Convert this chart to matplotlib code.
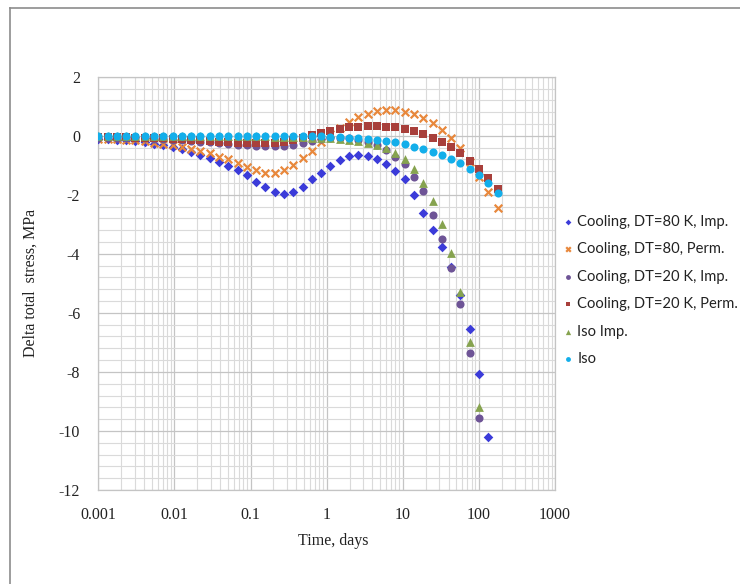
import matplotlib
matplotlib.use("Agg")
import matplotlib.pyplot as plt
from matplotlib.lines import Line2D
from matplotlib.ticker import LogLocator, MultipleLocator, FuncFormatter

plt.rcParams['axes.unicode_minus'] = False

# time, days
times = [0.001, 0.001324, 0.001754, 0.002323, 0.003076, 0.004074, 0.005395, 0.007145,
         0.009462, 0.01253, 0.0166, 0.02198, 0.02911, 0.03855, 0.05105, 0.06761,
         0.08954, 0.1186, 0.157, 0.208, 0.2754, 0.3648, 0.4831, 0.6397, 0.8472,
         1.122, 1.486, 1.968, 2.606, 3.451, 4.571, 6.053, 8.017, 10.62, 14.06,
         18.62, 24.66, 32.66, 43.25, 57.28, 75.86, 100.5, 133.0, 176.2]

cool80_imp = [-0.11, -0.12, -0.14, -0.16, -0.19, -0.22, -0.27, -0.33, -0.38, -0.45,
              -0.54, -0.64, -0.76, -0.88, -1.02, -1.17, -1.34, -1.57, -1.75, -1.91,
              -1.96, -1.9, -1.73, -1.48, -1.25, -1.03, -0.82, -0.69, -0.65, -0.68,
              -0.79, -0.96, -1.18, -1.48, -2.01, -2.61, -3.19, -3.76, -4.45, -5.40,
              -6.55, -8.08, -10.2]

cool80_perm = [-0.1, -0.11, -0.12, -0.14, -0.16, -0.19, -0.23, -0.28, -0.33, -0.39,
               -0.46, -0.51, -0.6, -0.71, -0.8, -0.91, -1.05, -1.17, -1.25, -1.26,
               -1.16, -1.0, -0.77, -0.51, -0.22, 0.05, 0.27, 0.45, 0.62, 0.73,
               0.84, 0.87, 0.87, 0.81, 0.72, 0.59, 0.42, 0.19, -0.07, -0.43,
               -0.88, -1.41, -1.92, -2.44]

cool20_imp = [-0.06, -0.06, -0.07, -0.07, -0.08, -0.09, -0.1, -0.11, -0.13, -0.15,
              -0.17, -0.2, -0.22, -0.25, -0.28, -0.3, -0.32, -0.34, -0.35, -0.35,
              -0.34, -0.31, -0.25, -0.17, -0.11, -0.07, -0.06, -0.08, -0.13, -0.21,
              -0.33, -0.48, -0.71, -0.96, -1.39, -1.87, -2.69, -3.5, -4.49, -5.70,
              -7.37, -9.55]

cool20_perm = [-0.04, -0.04, -0.05, -0.05, -0.06, -0.07, -0.08, -0.09, -0.1, -0.12,
               -0.14, -0.16, -0.18, -0.2, -0.22, -0.24, -0.25, -0.26, -0.26, -0.25,
               -0.22, -0.16, -0.07, 0.03, 0.1, 0.17, 0.23, 0.28, 0.3, 0.33,
               0.33, 0.3, 0.28, 0.23, 0.16, 0.06, -0.07, -0.22, -0.39, -0.6,
               -0.85, -1.13, -1.44, -1.82]

iso_imp = [-0.02, -0.02, -0.02, -0.02, -0.02, -0.02, -0.02, -0.02, -0.02, -0.02,
           -0.02, -0.02, -0.02, -0.02, -0.02, -0.02, -0.02, -0.02, -0.02, -0.03,
           -0.03, -0.04, -0.05, -0.06, -0.07, -0.09, -0.12, -0.14, -0.17, -0.24,
           -0.3, -0.42, -0.58, -0.8, -1.11, -1.61, -2.21, -3.0, -3.98, -5.28,
           -6.98, -9.2]

iso = [0.0, 0.0, 0.0, 0.0, 0.0, 0.0, 0.0, 0.0, 0.0, 0.0,
       0.0, 0.0, 0.0, 0.0, 0.0, 0.0, 0.0, 0.0, 0.0, 0.0,
       0.0, 0.0, 0.0, -0.01, -0.02, -0.03, -0.05, -0.07, -0.09, -0.12,
       -0.15, -0.18, -0.22, -0.28, -0.37, -0.44, -0.54, -0.65, -0.78, -0.94,
       -1.13, -1.34, -1.61, -1.95]

x_ticks = [0.001, 0.01, 0.1, 1, 10, 100, 1000]

fig = plt.figure(figsize=(7.4, 5.84), dpi=100)
ax = fig.add_axes([98.3/740, 1-490/584, (555-98.3)/740, (490-76.7)/584])

ax.scatter(times[:len(cool80_imp)], cool80_imp, marker='D', s=24, color='#3B3BD9', linewidths=0,
           label='Cooling, DT=80 K, Imp.', zorder=3)
ax.scatter(times, cool80_perm, marker='x', s=30, color='#E8883C', linewidths=1.6,
           label='Cooling, DT=80, Perm.', zorder=3)
ax.scatter(times[:len(cool20_imp)], cool20_imp, marker='o', s=34, color='#6E5496', linewidths=0,
           label='Cooling, DT=20 K, Imp.', zorder=3)
ax.scatter(times, cool20_perm, marker='s', s=30, color='#A83F3B', linewidths=0,
           label='Cooling, DT=20 K, Perm.', zorder=3)
ax.scatter(times[:len(iso_imp)], iso_imp, marker='^', s=40, color='#86A34F', linewidths=0,
           label='Iso Imp.', zorder=3)
ax.scatter(times, iso, marker='o', s=34, color='#13AEEA', linewidths=0,
           label='Iso', zorder=3)

ax.set_xscale('log')
ax.set_xlim(0.001, 1000)
ax.set_ylim(-12, 2)
ax.xaxis.set_minor_locator(LogLocator(base=10, subs=range(2, 10), numticks=100))
ax.set_xticks(x_ticks)
ax.xaxis.set_major_formatter(FuncFormatter(lambda v, p: '%g' % v))
ax.xaxis.set_minor_formatter(FuncFormatter(lambda v, p: ''))
ax.yaxis.set_major_locator(MultipleLocator(2))
ax.yaxis.set_minor_locator(MultipleLocator(0.4))

ax.grid(True, which='major', color='#C4C4C4', linewidth=0.9)
ax.grid(True, which='minor', color='#DADADA', linewidth=0.8)
ax.set_axisbelow(True)
for sp in ax.spines.values():
    sp.set_color('#C4C4C4')
    sp.set_linewidth(0.9)

ax.tick_params(which='both', length=0)
ax.tick_params(axis='x', pad=12)
ax.tick_params(axis='y', pad=13)
for lab in ax.get_xticklabels() + ax.get_yticklabels():
    lab.set_fontfamily('Liberation Serif')
    lab.set_fontsize(11.5)
    lab.set_color('#222222')

fig.text(333/740, 1-541/584, 'Time, days', family='Liberation Serif', fontsize=11.5,
         ha='center', va='center', color='#222222')
fig.text(31/740, 1-283/584, 'Delta total  stress, MPa', family='Liberation Serif', fontsize=11.5,
         rotation=90, ha='center', va='center', color='#222222')

leg = ax.legend(loc='center left', bbox_to_anchor=(562/740, 1-290.5/584),
                bbox_transform=fig.transFigure, frameon=False, borderpad=0,
                borderaxespad=0, handlelength=0.8, handletextpad=0.25,
                labelspacing=0.92, markerscale=0.6,
                prop={'family': 'Lato', 'size': 10.6})
for t in leg.get_texts():
    t.set_color('#222222')

# outer frame (top and left edges only visible)
fig.add_artist(Line2D([10/740, 10/740], [0, 1-8/584], color='#8C8C8C', linewidth=1.2,
                      transform=fig.transFigure))
fig.add_artist(Line2D([10/740, 1], [1-8/584, 1-8/584], color='#8C8C8C', linewidth=1.2,
                      transform=fig.transFigure))

fig.savefig('out.png', dpi=100)
